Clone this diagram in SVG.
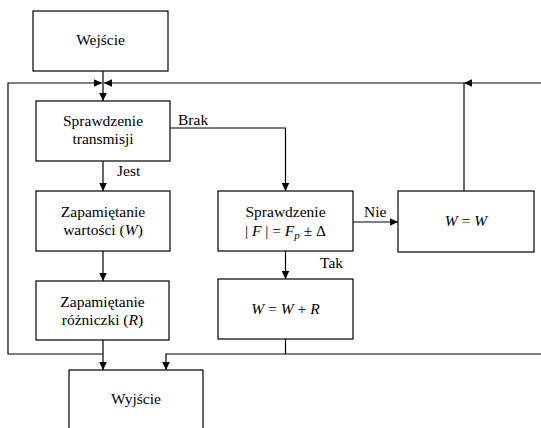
<svg xmlns="http://www.w3.org/2000/svg" width="541" height="428" viewBox="0 0 541 428" font-family="'Liberation Serif', 'Times New Roman', 'DejaVu Serif', serif" font-size="15.5">
<style>
.box{fill:#fff;stroke:#000;stroke-width:1.2}
.ln{fill:none;stroke:#000;stroke-width:1.2}
.t{font-family:'Liberation Serif','Times New Roman','DejaVu Serif',serif;font-size:15.5px;fill:#000}
.c{text-anchor:middle}
.i{font-style:italic}
</style>
<defs>
<marker id="ah" markerUnits="userSpaceOnUse" markerWidth="10" markerHeight="10" viewBox="0 0 10 10" refX="8" refY="5" orient="auto">
<path d="M0,1.2 L8,5 L0,8.8 Z" fill="#000"/>
</marker>
</defs>
<g id="connectors">
<path class="ln" d="M103,71 V101" marker-end="url(#ah)"/>
<path class="ln" d="M103,354 H8 V83 H102" marker-end="url(#ah)"/>
<path class="ln" d="M541,83 H464" marker-end="url(#ah)"/>
<path class="ln" d="M464,83 H104" marker-end="url(#ah)"/>
<path class="ln" d="M464,191 V83"/>
<path class="ln" d="M170,128 H285.5 V191" marker-end="url(#ah)"/>
<path class="ln" d="M103,161 V191" marker-end="url(#ah)"/>
<path class="ln" d="M103,251 V281" marker-end="url(#ah)"/>
<path class="ln" d="M103,340 V370" marker-end="url(#ah)"/>
<path class="ln" d="M353,222 H398" marker-end="url(#ah)"/>
<path class="ln" d="M285.5,251 V279" marker-end="url(#ah)"/>
<path class="ln" d="M285.5,339 V354"/>
<path class="ln" d="M541,354 H166 V370" marker-end="url(#ah)"/>
<text class="t" x="178" y="125">Brak</text>
<text class="t" x="117" y="176">Jest</text>
<text class="t" x="364" y="217">Nie</text>
<text class="t" x="320" y="268">Tak</text>
</g>
<g id="wejscie">
<rect class="box" x="33" y="11" width="135" height="60"/>
<text class="t c" x="100.5" y="45">Wejście</text>
</g>
<g id="sprawdzenie-transmisji">
<rect class="box" x="36" y="101" width="134" height="60"/>
<text class="t c" x="103" y="126">Sprawdzenie</text>
<text class="t c" x="103" y="144">transmisji</text>
</g>
<g id="zapamietanie-wartosci">
<rect class="box" x="36" y="191" width="134" height="60"/>
<text class="t c" x="103" y="217">Zapamiętanie</text>
<text class="t c" x="103" y="235">wartości (<tspan class="i">W</tspan>)</text>
</g>
<g id="zapamietanie-rozniczki">
<rect class="box" x="36" y="281" width="133" height="59"/>
<text class="t c" x="102.5" y="307">Zapamiętanie</text>
<text class="t c" x="102.5" y="325">różniczki (<tspan class="i">R</tspan>)</text>
</g>
<g id="wyjscie">
<rect class="box" x="69" y="370" width="134" height="70"/>
<text class="t c" x="136" y="404">Wyjście</text>
</g>
<g id="sprawdzenie-f">
<rect class="box" x="218" y="191" width="135" height="60"/>
<text class="t c" x="285.5" y="217">Sprawdzenie</text>
<text class="t c" x="285.5" y="236">| <tspan class="i">F</tspan> | = <tspan class="i">F</tspan><tspan class="i" font-size="11" dy="3">p</tspan><tspan dy="-3"> ± Δ</tspan></text>
</g>
<g id="w-eq-w">
<rect class="box" x="398" y="191" width="136" height="61"/>
<text class="t c" x="466" y="226"><tspan class="i">W</tspan> = <tspan class="i">W</tspan></text>
</g>
<g id="w-eq-w-plus-r">
<rect class="box" x="218" y="279" width="135" height="60"/>
<text class="t c" x="285.5" y="314"><tspan class="i">W</tspan> = <tspan class="i">W</tspan> + <tspan class="i">R</tspan></text>
</g>
</svg>
